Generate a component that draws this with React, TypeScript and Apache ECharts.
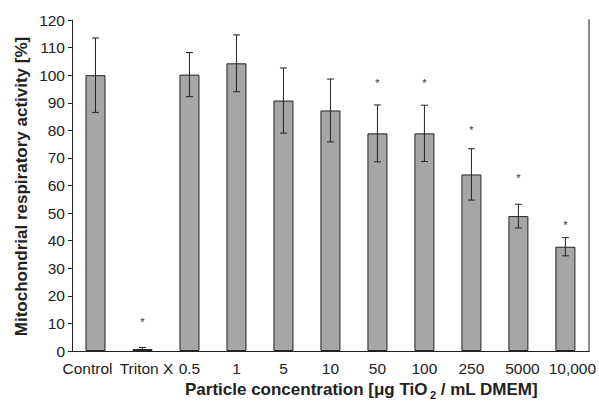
import React, { useEffect, useRef } from "react";
import * as echarts from "echarts";

const categories = ["Control", "Triton X", "0.5", "1", "5", "10", "50", "100", "250", "5000", "10,000"];
const means = [100, 0.7, 100.2, 104.3, 90.8, 87.2, 78.9, 78.9, 64.0, 48.9, 37.8];
const errors = [13.5, 0.6, 8.0, 10.3, 11.8, 11.4, 10.3, 10.2, 9.3, 4.3, 3.3];
const starValues = [null, 10.6, null, null, null, null, 97.3, 97.3, 80.0, 62.6, 45.7];

const FONT = "Liberation Sans, Arial, Helvetica, sans-serif";
// horizontal nudges of some tick labels, as in the original figure
const LABEL_STYLE_KEYS = ["l", "r", "", "", "", "", "", "", "", "s", "t"];

export default function App() {
  const ref = useRef<HTMLDivElement>(null);
  useEffect(() => {
    if (!ref.current) return;
    const chart = echarts.init(ref.current, null, { renderer: "svg" });
    const errData = means.map((m, i) => [i, m - errors[i], m + errors[i]]);
    const starData = starValues
      .map((v, i) => (v == null ? null : [i, v]))
      .filter((d) => d != null);
    const lab = { fontSize: 15.5, fontFamily: FONT, color: "#222" };
    chart.setOption({
      animation: false,
      grid: { left: 72, right: 8, top: 20, bottom: 53 },
      xAxis: [
        {
          type: "category",
          data: categories,
          axisLine: { lineStyle: { color: "#222", width: 1 } },
          axisTick: { inside: true, length: 3, lineStyle: { color: "#444" } },
          axisLabel: {
            ...lab,
            margin: 9,
            interval: 0,
            formatter: (v: string, i: number) =>
              LABEL_STYLE_KEYS[i] ? `{${LABEL_STYLE_KEYS[i]}|${v}}` : v,
            rich: {
              l: { ...lab, padding: [0, 16, 0, 0] },
              r: { ...lab, padding: [0, 0, 0, 8] },
              s: { ...lab, padding: [0, 0, 0, 8] },
              t: { ...lab, padding: [0, 0, 0, 14] },
            },
          },
        },
        {
          type: "category",
          data: categories,
          position: "top",
          axisLine: { lineStyle: { color: "#222", width: 1 } },
          axisTick: { show: false },
          axisLabel: { show: false },
        },
      ],
      yAxis: [
        {
          type: "value",
          min: 0,
          max: 120,
          interval: 10,
          axisLine: { show: true, lineStyle: { color: "#222", width: 1 } },
          axisTick: { show: true, inside: false, length: 4, lineStyle: { color: "#222" } },
          axisLabel: { ...lab, fontSize: 15.5, margin: 7 },
          splitLine: { show: false },
        },
        {
          type: "value",
          min: 0,
          max: 120,
          interval: 10,
          position: "right",
          axisLine: { show: true, lineStyle: { color: "#888", width: 2 } },
          axisTick: { show: false },
          axisLabel: { show: false },
          splitLine: { show: false },
        },
      ],
      graphic: [
        {
          type: "text",
          x: 21,
          y: 186.5,
          rotation: Math.PI / 2,
          style: {
            text: "Mitochondrial respiratory activity [%]",
            font: `bold 17px ${FONT}`,
            fill: "#222",
            textAlign: "center",
            textVerticalAlign: "middle",
          },
        },
        {
          type: "group",
          x: 185,
          y: 398,
          children: [
            {
              type: "text",
              x: 0,
              y: 0,
              style: {
                text: "Particle concentration [μg TiO",
                font: `bold 17px ${FONT}`,
                fill: "#222",
                textVerticalAlign: "bottom",
              },
            },
            {
              type: "text",
              x: 245,
              y: 2.5,
              style: {
                text: "2",
                font: `bold 11px ${FONT}`,
                fill: "#222",
                textVerticalAlign: "bottom",
              },
            },
            {
              type: "text",
              x: 251,
              y: 0,
              style: {
                text: " / mL DMEM]",
                font: `bold 17px ${FONT}`,
                fill: "#222",
                textVerticalAlign: "bottom",
              },
            },
          ],
        },
      ],
      series: [
        {
          type: "bar",
          data: means,
          barWidth: 20,
          itemStyle: { color: "#a6a6a6", borderColor: "#222", borderWidth: 1 },
        },
        {
          type: "custom",
          data: errData,
          renderItem: (params: any, api: any) => {
            const x = api.coord([api.value(0), 0])[0];
            const lo = api.coord([api.value(0), api.value(1)])[1];
            const hi = api.coord([api.value(0), api.value(2)])[1];
            const hw = 3.5;
            const st = { stroke: "#222", lineWidth: 1 };
            return {
              type: "group",
              children: [
                { type: "line", shape: { x1: x, y1: lo, x2: x, y2: hi }, style: st },
                { type: "line", shape: { x1: x - hw, y1: lo, x2: x + hw, y2: lo }, style: st },
                { type: "line", shape: { x1: x - hw, y1: hi, x2: x + hw, y2: hi }, style: st },
              ],
            };
          },
          z: 5,
        },
        {
          type: "custom",
          data: starData,
          renderItem: (params: any, api: any) => {
            const p = api.coord([api.value(0), api.value(1)]);
            return {
              type: "text",
              x: p[0],
              y: p[1],
              style: {
                text: "*",
                font: `11px ${FONT}`,
                fill: "#333",
                textAlign: "center",
                textVerticalAlign: "middle",
              },
            };
          },
          z: 5,
        },
      ],
    });
    return () => chart.dispose();
  }, []);
  return (
    <div
      ref={ref}
      style={{ position: "absolute", left: 0, top: 0, width: 599, height: 404 }}
    />
  );
}
